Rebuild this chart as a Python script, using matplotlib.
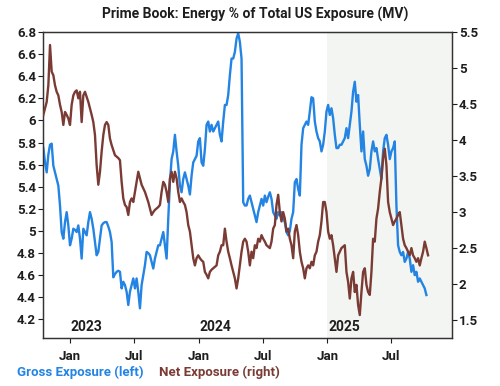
import numpy as np
import pandas as pd
import matplotlib
matplotlib.use("Agg")
import matplotlib.pyplot as plt
import matplotlib.dates as mdates
from matplotlib.ticker import FixedLocator, FuncFormatter

plt.rcParams["font.family"] = ["Roboto", "DejaVu Sans"]
plt.rcParams["font.weight"] = "bold"

# Gross exposure (left axis, % of total US exposure)
gross = [
	5.75, 5.62, 5.53, 5.69, 5.78, 5.79, 5.59, 5.53, 5.47, 5.41,
	5.23, 4.99, 4.93, 5.08, 5.17, 5.05, 4.87, 4.93, 5.02, 5.01,
	4.99, 5.05, 4.93, 4.75, 5.02, 4.99, 4.96, 5.08, 5.17, 5.11,
	5.02, 4.90, 4.78, 4.81, 4.93, 5.05, 5.07, 5.08, 5.08, 5.04,
	4.99, 4.90, 4.58, 4.61, 4.63, 4.64, 4.63,
	4.48, 4.54, 4.51, 4.45, 4.33, 4.45, 4.51, 4.57, 4.48, 4.57,
	4.45, 4.30, 4.51, 4.60, 4.69, 4.81, 4.80, 4.78, 4.72, 4.66,
	4.75, 4.81, 4.87, 4.87, 4.93, 4.99, 4.87, 4.75, 5.11, 5.44,
	5.65, 5.72, 5.87, 5.72, 5.59, 5.41, 5.35, 5.47, 5.53, 5.47,
	5.41, 5.33, 5.50, 5.62, 5.65,
	5.68, 5.81, 5.84, 5.62, 5.59, 5.74, 5.96, 5.99, 5.90, 5.96,
	5.90, 5.93, 5.96, 5.99, 5.87, 5.81, 5.99, 6.14, 6.14, 6.23,
	6.41, 6.56, 6.56, 6.62, 6.74, 6.79, 6.71, 6.56, 5.26, 5.23,
	5.23, 5.29, 5.32, 5.26, 5.20, 5.14, 5.08, 5.17, 5.23, 5.29,
	5.23, 5.32, 5.26, 5.31, 5.35,
	5.29, 5.17, 5.14, 5.11, 5.17, 5.14, 5.17, 5.11, 5.08, 4.99,
	4.96, 5.00, 5.11, 5.17, 5.44, 5.47, 5.38, 5.32, 5.78, 5.93,
	5.96, 5.99, 5.96, 6.08, 6.21, 6.20, 5.99, 5.90, 5.84, 5.81,
	5.72, 5.78, 5.90, 6.08, 6.14, 6.05, 6.11, 6.02, 5.87, 5.75,
	5.75, 5.78, 5.78, 5.81, 5.84,
	5.93, 5.84, 5.96, 6.08, 6.26, 6.35, 6.17, 6.23, 5.96, 5.72,
	5.90, 5.65, 5.59, 5.50, 5.56, 5.72, 5.81, 5.72, 5.75, 5.65,
	5.56, 5.47, 5.72, 5.84, 5.87, 5.78, 5.65, 5.72, 5.75, 5.81,
	5.23, 4.87, 4.81, 4.78, 4.81, 4.72, 4.75, 4.81, 4.75, 4.63,
	4.69, 4.60, 4.63, 4.54, 4.57, 4.54, 4.51, 4.48, 4.42,
]

# Net exposure (right axis)
net = [
	4.35, 4.44, 4.53, 4.76, 5.32, 4.95, 4.90, 4.76, 4.67, 4.62,
	4.49, 4.39, 4.21, 4.39, 4.35, 4.30, 4.21, 4.49, 4.62, 4.67,
	4.69, 4.58, 4.67, 4.25, 4.62, 4.67, 4.60, 4.53, 4.44, 4.35,
	4.25, 4.07, 3.65, 3.38, 3.56, 3.84, 4.07, 4.21, 4.25, 4.21,
	4.02, 3.93, 3.86, 3.79, 3.77, 3.75, 3.72,
	3.42, 3.19, 3.10, 3.07, 2.96, 3.14, 3.19, 3.14, 3.28, 3.42,
	3.56, 3.47, 3.38, 3.33, 3.28, 3.21, 3.14, 3.05, 2.96, 3.00,
	3.03, 3.05, 3.07, 3.10, 3.28, 3.42, 3.38, 3.28, 3.14, 3.47,
	3.56, 3.42, 3.56, 3.47, 3.28, 3.14, 3.19, 3.14, 3.10, 3.00,
	2.82, 2.73, 2.54, 2.36, 2.26,
	2.36, 2.40, 2.36, 2.33, 2.31, 2.17, 2.13, 2.08, 2.17, 2.20,
	2.22, 2.24, 2.26, 2.40, 2.45, 2.54, 2.54, 2.77, 2.59, 2.45,
	2.36, 2.26, 2.17, 2.08, 1.94, 2.08, 2.26, 2.45, 2.59, 2.63,
	2.59, 2.45, 2.26, 2.45, 2.36, 2.54, 2.50, 2.63, 2.59, 2.68,
	2.63, 2.59, 2.54, 2.52, 2.50,
	2.59, 2.77, 2.82, 3.10, 3.24, 3.00, 2.87, 3.00, 2.91, 2.73,
	2.77, 2.63, 2.54, 2.36, 2.73, 2.82, 2.68, 2.45, 2.31, 2.22,
	2.08, 2.22, 2.26, 2.22, 2.31, 2.26, 2.40, 2.45, 2.59, 2.68,
	2.87, 3.14, 3.14, 3.00, 2.73, 2.63, 2.68, 2.54, 2.36, 2.17,
	2.40, 2.45, 2.50, 2.52, 2.54,
	2.17, 2.03, 1.80, 2.08, 2.17, 1.89, 1.99, 1.71, 1.57, 1.89,
	2.17, 2.22, 1.99, 1.89, 1.85, 2.17, 2.63, 2.59, 2.91, 3.05,
	3.28, 3.47, 3.75, 3.88, 3.65, 3.14, 3.00, 2.91, 2.82, 2.87,
	2.91, 2.96, 3.00, 2.82, 2.63, 2.54, 2.50, 2.45, 2.40, 2.50,
	2.40, 2.36, 2.31, 2.36, 2.26, 2.36, 2.45, 2.59, 2.50, 2.40,
]

dates = pd.date_range("2022-10-17", "2025-10-14", periods=len(net))

left_ticks = [4.2, 4.4, 4.6, 4.8, 5.0, 5.2, 5.4, 5.6, 5.8, 6.0, 6.2, 6.4, 6.6, 6.8]
right_ticks = [1.5, 2.0, 2.5, 3.0, 3.5, 4.0, 4.5, 5.0, 5.5]
month_ticks = ["2023-01-01", "2023-07-01", "2024-01-01", "2024-07-01", "2025-01-01", "2025-07-01"]
month_labels = ["Jan", "Jul", "Jan", "Jul", "Jan", "Jul"]
years = ["2023", "2024", "2025"]

BLUE = "#2384e3"
BROWN = "#7a3b34"
INK = "#1e1e1e"

fig = plt.figure(figsize=(5.0, 3.86), dpi=100)
ax = fig.add_axes([0.086, 0.124, 0.818, 0.793])
ax2 = ax.twinx()

# light shading for the current year
ax.axvspan(pd.Timestamp("2025-01-01"), pd.Timestamp("2025-12-21"), color="#f2f5f1", lw=0, zorder=0)

ax.plot(dates[:len(gross)], gross, color=BLUE, lw=1.7, zorder=3)
ax2.plot(dates, net, color=BROWN, lw=1.7, zorder=3)

ax.set_xlim(pd.Timestamp("2022-10-16"), pd.Timestamp("2025-12-21"))
ax.set_ylim(4.03, 6.8)
ax2.set_ylim(1.25, 5.5)

fmt = FuncFormatter(lambda v, p: f"{v:g}")
ax.yaxis.set_major_locator(FixedLocator(left_ticks))
ax.yaxis.set_major_formatter(fmt)
ax2.yaxis.set_major_locator(FixedLocator(right_ticks))
ax2.yaxis.set_major_formatter(fmt)

ax.set_xticks([mdates.date2num(pd.Timestamp(d)) for d in month_ticks])
ax.set_xticklabels(month_labels)

for a in (ax, ax2):
	a.tick_params(labelsize=9.5, colors=INK, length=3.5, width=0.8, pad=1.5)
	for s in a.spines.values():
		s.set_color("#333333")
		s.set_linewidth(0.9)
ax.tick_params(axis="x", pad=5)

for y in years:
	ax.text(pd.Timestamp(f"{y}-01-01") + pd.Timedelta(days=47), 0.012, y,
		transform=ax.get_xaxis_transform(), ha="center", va="bottom",
		fontsize=10, fontweight="bold", color=INK)

fig.text(0.51, 0.962, "Prime Book: Energy % of Total US Exposure (MV)",
	ha="center", va="center", fontsize=10, fontweight="bold", color=INK)
fig.text(0.034, 0.036, "Gross Exposure (left)", color=BLUE, fontsize=9.5,
	fontweight="bold", ha="left", va="center")
fig.text(0.318, 0.036, "Net Exposure (right)", color=BROWN, fontsize=9.5,
	fontweight="bold", ha="left", va="center")

fig.savefig("out.png", dpi=100)
